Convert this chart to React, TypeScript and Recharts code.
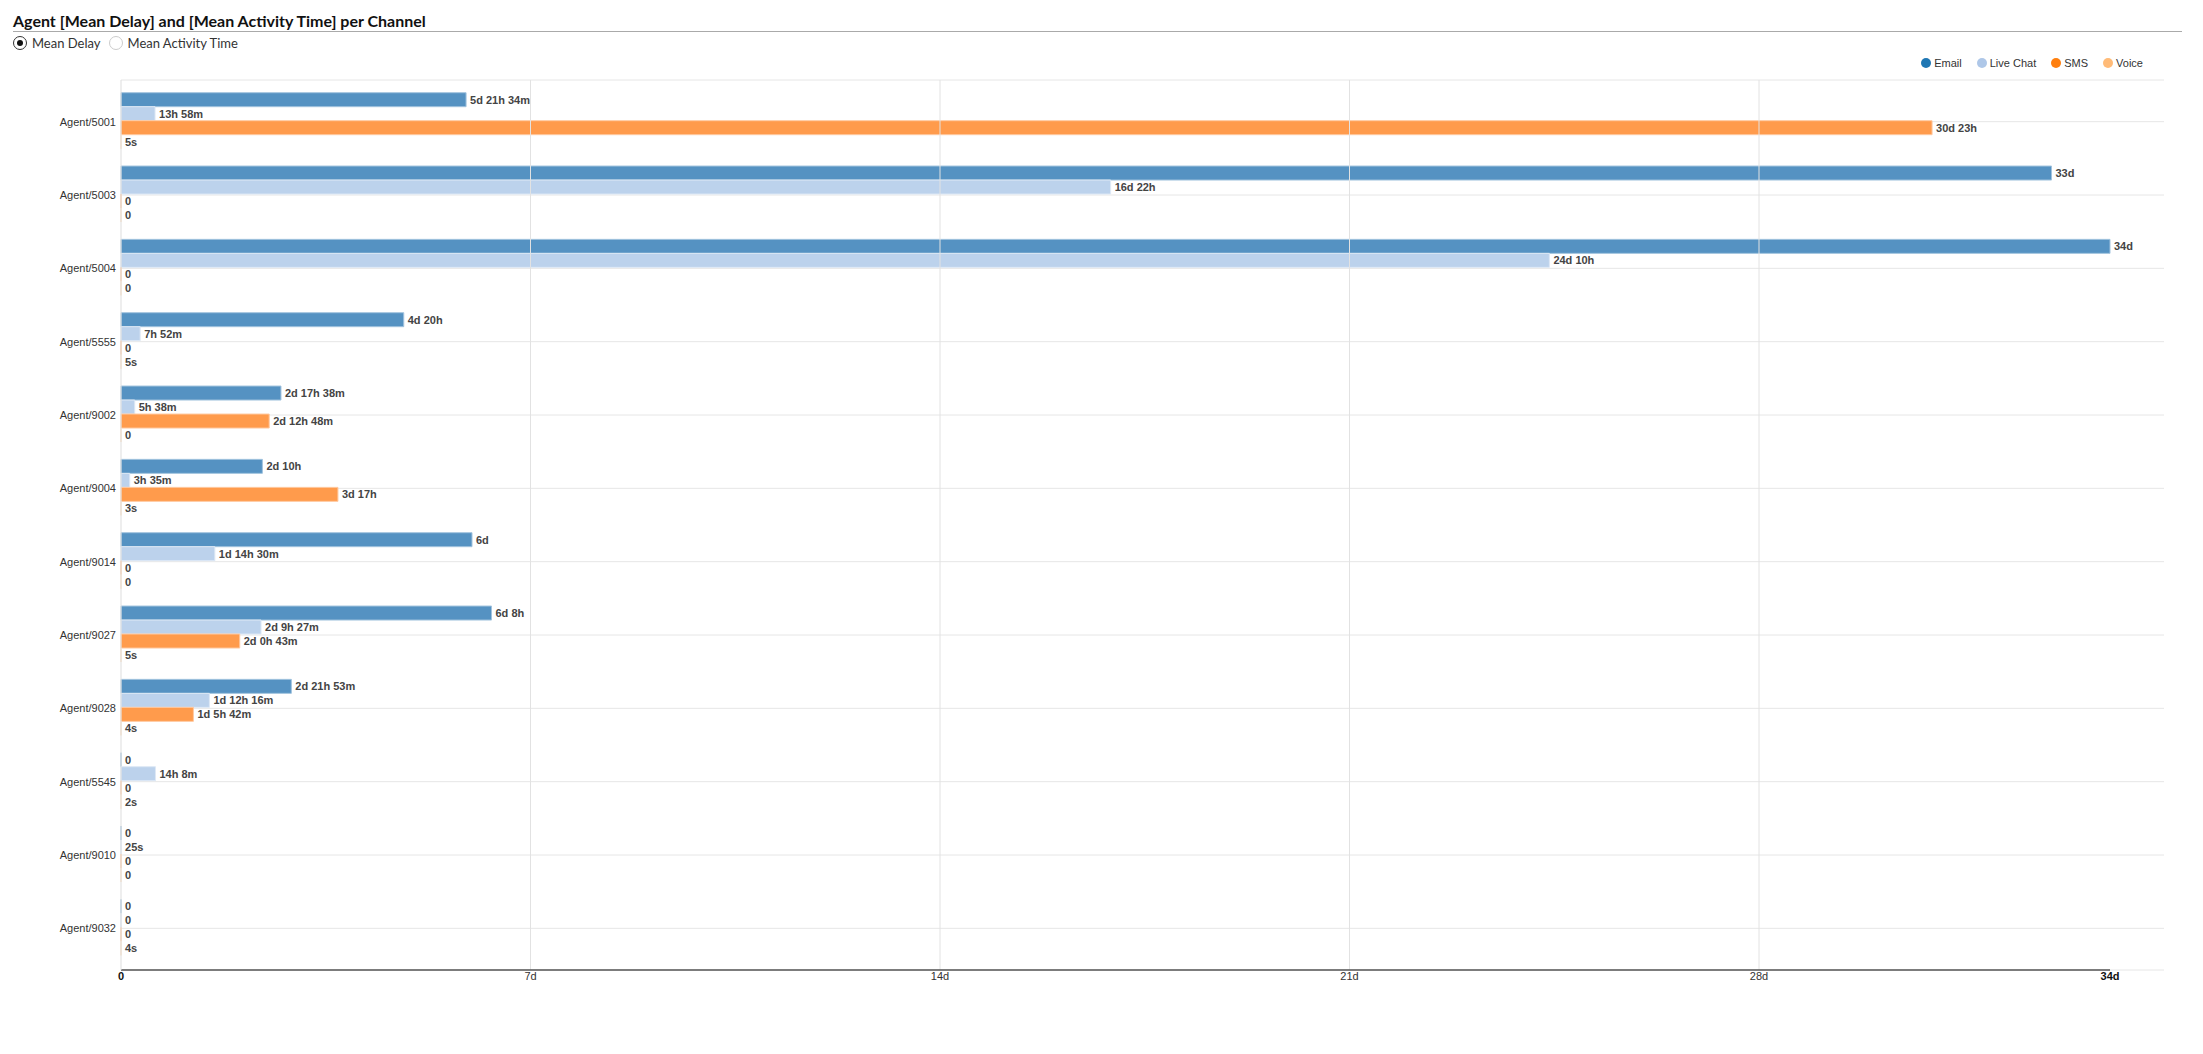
import React from "react";
import {
  BarChart,
  Bar,
  XAxis,
  YAxis,
  CartesianGrid,
  ReferenceLine,
  LabelList,
} from "recharts";

const DAY = 86400;
const dur = (d: number, h = 0, m = 0, s = 0) => d * DAY + h * 3600 + m * 60 + s;

const agents = [
  "Agent/5001",
  "Agent/5003",
  "Agent/5004",
  "Agent/5555",
  "Agent/9002",
  "Agent/9004",
  "Agent/9014",
  "Agent/9027",
  "Agent/9028",
  "Agent/5545",
  "Agent/9010",
  "Agent/9032",
];

const emailDelay = [
  dur(5, 21, 34), dur(33), dur(34), dur(4, 20), dur(2, 17, 38), dur(2, 10),
  dur(6), dur(6, 8), dur(2, 21, 53), 0, 0, 0,
];
const liveChatDelay = [
  dur(0, 13, 58), dur(16, 22), dur(24, 10), dur(0, 7, 52), dur(0, 5, 38), dur(0, 3, 35),
  dur(1, 14, 30), dur(2, 9, 27), dur(1, 12, 16), dur(0, 14, 8), dur(0, 0, 0, 25), 0,
];
const smsDelay = [
  dur(30, 23), 0, 0, 0, dur(2, 12, 48), dur(3, 17),
  0, dur(2, 0, 43), dur(1, 5, 42), 0, 0, 0,
];
const voiceDelay = [
  dur(0, 0, 0, 5), 0, 0, dur(0, 0, 0, 5), 0, dur(0, 0, 0, 3),
  0, dur(0, 0, 0, 5), dur(0, 0, 0, 4), dur(0, 0, 0, 2), 0, dur(0, 0, 0, 4),
];

const xTicksDays = [0, 7, 14, 21, 28, 34];
const gridDays = [7, 14, 21, 28];

const series = [
  { key: "email", name: "Email", fill: "#5592c2", stroke: "#a2c3de", legend: "#1f77b4" },
  { key: "liveChat", name: "Live Chat", fill: "#bcd2ec", stroke: "#dde8f5", legend: "#aec7e8" },
  { key: "sms", name: "SMS", fill: "#ff9b4c", stroke: "#ffc9a0", legend: "#ff7f0e" },
  { key: "voice", name: "Voice", fill: "#ffcc9a", stroke: "#ffe3c8", legend: "#ffbb78" },
];

const data = agents.map((agent, i) => ({
  agent,
  email: emailDelay[i],
  liveChat: liveChatDelay[i],
  sms: smsDelay[i],
  voice: voiceDelay[i],
}));

function fmt(v: any): string {
  const n = Number(v) || 0;
  if (n === 0) return "0";
  const parts = [
    Math.floor(n / DAY),
    Math.floor((n % DAY) / 3600),
    Math.floor((n % 3600) / 60),
    Math.round(n % 60),
  ];
  const units = ["d", "h", "m", "s"];
  let first = parts.findIndex((p) => p !== 0);
  let last = 3;
  while (last > first && parts[last] === 0) last--;
  const out: string[] = [];
  for (let i = first; i <= last; i++) out.push(parts[i] + units[i]);
  return out.join(" ");
}

const FONT = "'Liberation Sans', Arial, sans-serif";

const CHART_W = 2203;
const CHART_H = 1054;
const MARGIN = { top: 80, right: 93, bottom: 54, left: 0 };
const Y_AXIS_W = 121;
const GRID_EXTRA = 54;

const XTick = (props: any) => {
  const { x, y, payload } = props;
  const days = Math.round(payload.value / DAY);
  const bold = days === 0 || days === 34;
  return (
    <text
      x={x}
      y={y}
      dy="0.71em"
      textAnchor="middle"
      fontSize={11}
      fontFamily={FONT}
      fontWeight={bold ? "bold" : "normal"}
      fill={bold ? "#111" : "#333"}
    >
      {days === 0 ? "0" : days + "d"}
    </text>
  );
};

const ValueLabel = (props: any) => {
  const { x, y, width, height, value } = props;
  return (
    <text
      x={Number(x) + Number(width || 0) + 4}
      y={Number(y) + Number(height) / 2}
      dy="0.355em"
      fontSize={11}
      fontWeight="bold"
      fontFamily={FONT}
      fill="#444"
    >
      {fmt(value)}
    </text>
  );
};

const Radio = ({ checked, label }: { checked: boolean; label: string }) => (
  <span style={{ display: "inline-flex", alignItems: "center", marginRight: 8 }}>
    <span
      style={{
        width: 12,
        height: 12,
        borderRadius: "50%",
        border: checked ? "1px solid #333" : "1px solid #ccc",
        display: "inline-flex",
        alignItems: "center",
        justifyContent: "center",
        marginRight: 5,
        background: "#fff",
      }}
    >
      {checked && (
        <span style={{ width: 6, height: 6, borderRadius: "50%", background: "#111" }} />
      )}
    </span>
    <span>{label}</span>
  </span>
);

export default function App() {
  const plotW = CHART_W - MARGIN.left - MARGIN.right - Y_AXIS_W;
  const plotH = CHART_H - MARGIN.top - MARGIN.bottom - 30;
  return (
    <div style={{ position: "relative", width: CHART_W, height: CHART_H, background: "#fff" }}>
      <style>{`body{margin:0;}`}</style>
      <div
        style={{
          position: "absolute",
          left: 13,
          top: 11,
          width: 2169,
          height: 20,
          borderBottom: "1px solid #aaa",
          fontFamily: "Lato, sans-serif",
          fontWeight: 700,
          fontSize: 16,
          lineHeight: "19px",
          color: "#111",
          whiteSpace: "nowrap",
        }}
      >
        Agent [Mean Delay] and [Mean Activity Time] per Channel
      </div>
      <div
        style={{
          position: "absolute",
          left: 13,
          top: 35,
          fontFamily: "Lato, sans-serif",
          fontSize: 13,
          lineHeight: "16px",
          color: "#333",
          display: "flex",
          alignItems: "center",
        }}
      >
        <Radio checked label="Mean Delay" />
        <Radio checked={false} label="Mean Activity Time" />
      </div>
      <div
        style={{
          position: "absolute",
          right: 60,
          top: 57,
          display: "flex",
          alignItems: "center",
          fontFamily: FONT,
          fontSize: 11,
          color: "#333",
          zIndex: 2,
        }}
      >
        {series.map((s, i) => (
          <span
            key={s.key}
            style={{ display: "inline-flex", alignItems: "center", marginLeft: i === 0 ? 0 : 15 }}
          >
            <span
              style={{
                width: 10,
                height: 10,
                borderRadius: "50%",
                background: s.legend,
                marginRight: 3,
                display: "inline-block",
              }}
            />
            {s.name}
          </span>
        ))}
      </div>
      <div style={{ position: "absolute", left: 0, top: 0 }}>
        <BarChart
          width={CHART_W}
          height={CHART_H}
          data={data}
          layout="vertical"
          margin={MARGIN}
          barCategoryGap="10.5%"
          barGap={0}
        >
          <CartesianGrid
            horizontal
            vertical={false}
            stroke="#e6e6e6"
            x={MARGIN.left + Y_AXIS_W}
            y={MARGIN.top}
            width={plotW + GRID_EXTRA}
            height={plotH}
          />
          <XAxis
            type="number"
            domain={[0, xTicksDays[xTicksDays.length - 1] * DAY]}
            ticks={xTicksDays.map((d) => d * DAY)}
            tick={<XTick />}
            tickLine={false}
            tickSize={0}
            tickMargin={2}
            axisLine={{ stroke: "#555", strokeWidth: 1.5 }}
            interval={0}
          />
          <YAxis
            type="category"
            dataKey="agent"
            width={Y_AXIS_W}
            tickLine={false}
            tickSize={0}
            tickMargin={5}
            axisLine={{ stroke: "#ddd" }}
            padding={{ top: 5, bottom: 5 }}
            tick={{ fontSize: 11, fontFamily: FONT, fill: "#333" }}
            interval={0}
          />
          {gridDays.map((d) => (
            <ReferenceLine key={d} x={d * DAY} stroke="#e2e2e2" />
          ))}
          {series.map((s) => (
            <Bar
              key={s.key}
              dataKey={s.key}
              name={s.name}
              fill={s.fill}
              stroke={s.stroke}
              strokeWidth={1}
              minPointSize={0.01}
              isAnimationActive={false}
            >
              <LabelList dataKey={s.key} content={<ValueLabel />} />
            </Bar>
          ))}
        </BarChart>
      </div>
    </div>
  );
}
